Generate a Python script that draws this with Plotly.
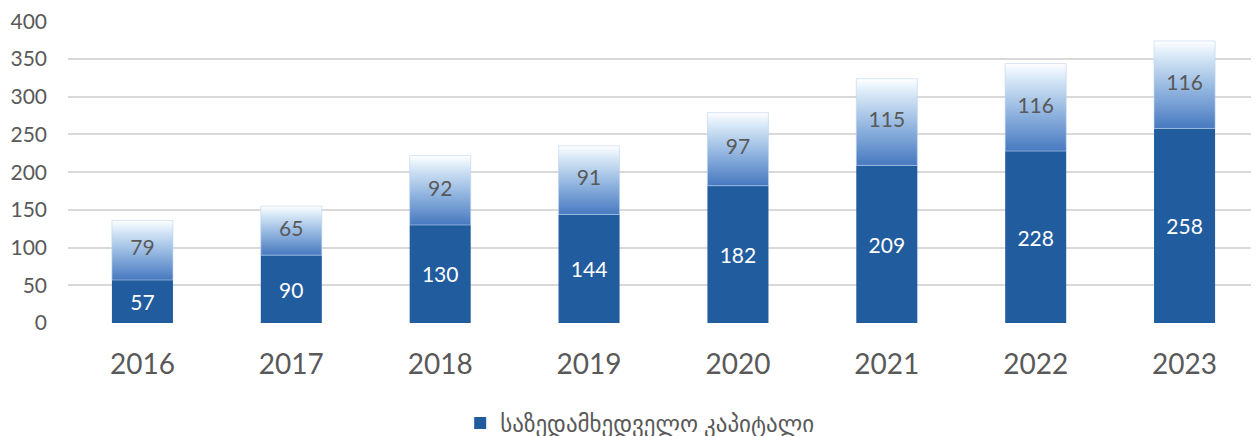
import plotly.graph_objects as go

# data
years = ["2016", "2017", "2018", "2019", "2020", "2021", "2022", "2023"]
capital = [57, 90, 130, 144, 182, 209, 228, 258]
extra = [79, 65, 92, 91, 97, 115, 116, 116]
legend_name = "საზედამხედველო კაპიტალი"

BLUE = "#215C9F"
BAR_W = 0.41
FONT = "Lato, DejaVu Sans, sans-serif"

xs = list(range(len(years)))
fig = go.Figure()

# bottom series (solid blue)
fig.add_trace(go.Bar(
    x=xs, y=capital, width=BAR_W, name=legend_name,
    marker=dict(color=BLUE, line=dict(width=0)),
    text=capital, textposition="inside", insidetextanchor="middle",
    textfont=dict(color="white", size=21, family=FONT),
    hoverinfo="y",
))

# top series: gradient rectangles (blue at bottom fading to white at top)
for i, (b, e) in enumerate(zip(capital, extra)):
    x0, x1 = i - BAR_W / 2, i + BAR_W / 2
    fig.add_trace(go.Scatter(
        x=[x0, x1, x1, x0, x0], y=[b, b, b + e, b + e, b],
        mode="lines", fill="toself",
        line=dict(color="rgba(190,212,238,0.6)", width=1),
        fillgradient=dict(type="vertical",
                          colorscale=[[0, "#4779C0"], [0.45, "#93B6E0"],
                                      [0.85, "#DCEBF8"], [1, "#FFFFFF"]]),
        showlegend=False, hoverinfo="skip",
    ))

# labels of the top series
fig.add_trace(go.Scatter(
    x=xs, y=[b + e / 2 for b, e in zip(capital, extra)],
    mode="text", text=[str(e) for e in extra],
    textfont=dict(color="#595959", size=21, family=FONT),
    showlegend=False, hoverinfo="skip",
))

# page body has an 8px margin, so the figure is 8px smaller than the window
fig.update_layout(
    width=1251, height=428,
    margin=dict(l=60, r=0, t=13, b=113, autoexpand=False),
    plot_bgcolor="white", paper_bgcolor="white",
    barmode="overlay",
    font=dict(family=FONT, color="#595959"),
    showlegend=True,
    legend=dict(orientation="h", x=0.48, xanchor="center",
                yref="container", y=0.03, yanchor="middle",
                font=dict(size=23, color="#595959", family=FONT),
                itemwidth=30),
)
fig.update_xaxes(
    range=[-0.5, len(years) - 0.5], tickvals=xs, ticktext=years,
    showgrid=False, zeroline=False, showline=False, automargin=False,
    tickfont=dict(size=28, color="#595959", family=FONT), ticks="",
    ticklabelstandoff=22,
)
fig.update_yaxes(
    range=[0, 400.5], dtick=50, showgrid=True, gridcolor="#D9D9D9", gridwidth=2,
    zeroline=False, showline=False, ticks="", automargin=False,
    tickfont=dict(size=21, color="#595959", family=FONT),
    ticklabelstandoff=20, ticklabeloverflow="allow",
)

fig.write_html("out.html")
